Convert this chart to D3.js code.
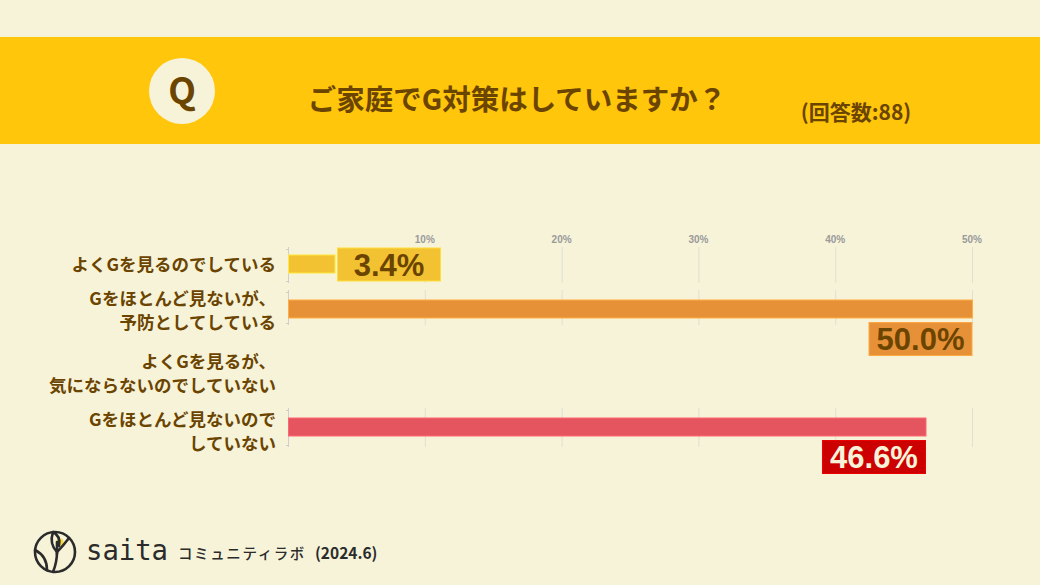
<!DOCTYPE html>
<html><head><meta charset="utf-8">
<script src="https://cdn.jsdelivr.net/npm/d3@7"></script>
<style>
html,body{margin:0;padding:0;background:#f6f3d9;}
svg{display:block;font-family:"Noto Sans CJK JP","Noto Sans",sans-serif;}
</style></head>
<body>
<svg id="c" width="1040" height="585"></svg>
<script>
const categories = [
  ["よくGを見るのでしている"],
  ["Gをほとんど見ないが、","予防としてしている"],
  ["よくGを見るが、","気にならないのでしていない"],
  ["Gをほとんど見ないので","していない"]
];
const values = [3.4, 50.0, 0, 46.6];
const valueLabels = ["3.4%", "50.0%", "", "46.6%"];
const barColors = ["#f2c232", "#e69138", "#e6b8af", "#e5555f"];
const boxColors = ["#f2c232", "#e69138", "#e6b8af", "#cc0000"];
const boxText = ["#6b4400", "#6b4400", "#6b4400", "#f6f3d9"];
const ticks = [10, 20, 30, 40, 50];
const tickLabels = ["10%", "20%", "30%", "40%", "50%"];
const title = "ご家庭でG対策はしていますか？";
const subtitle = "(回答数:88)";

// layout (row positions, not data)
const barRowY = [264, 309, 373, 427];
const labelRowY = [264, 310.5, 373.5, 431.5];

const svg = d3.select("#c");
const brown = "#6b4400";

svg.append("rect").attr("width",1040).attr("height",585).attr("fill","#f6f3d9");
svg.append("rect").attr("x",0).attr("y",37).attr("width",1040).attr("height",107).attr("fill","#ffc60b");
svg.append("circle").attr("cx",182).attr("cy",91).attr("r",33).attr("fill","#f6f3d9");
svg.append("text").attr("x",182).attr("y",104).attr("text-anchor","middle")
  .attr("font-size",36).attr("font-weight",700).attr("fill",brown).text("Q");
svg.append("text").attr("x",517).attr("y",110).attr("text-anchor","middle")
  .attr("font-size",28.5).attr("font-weight",700).attr("fill",brown).text(title);
svg.append("text").attr("x",856).attr("y",120).attr("text-anchor","middle")
  .attr("font-size",21).attr("font-weight",700).attr("fill",brown).text(subtitle);

const x = d3.scaleLinear().domain([0,50]).range([288,972]);
const yBar = d3.scaleOrdinal().domain(d3.range(categories.length)).range(barRowY);
const yLab = d3.scaleOrdinal().domain(d3.range(categories.length)).range(labelRowY);
const barH = 18;

svg.append("g").selectAll("text").data(ticks).join("text")
  .attr("x",d=>x(d)).attr("y",243).attr("text-anchor","middle")
  .attr("font-family","'Liberation Sans',Arial,sans-serif")
  .attr("font-size",10).attr("font-weight",700).attr("fill","#9a9a9a")
  .text((d,i)=>tickLabels[i]);

categories.forEach((lines,i)=>{
  const cy = yBar(i);
  const ly = yLab(i);
  const v = values[i];
  const lh = 24;
  const t = svg.append("text").attr("text-anchor","end").attr("font-size",17.5)
    .attr("font-weight",700).attr("fill",brown);
  lines.forEach((ln,k)=>{
    const off = (k-(lines.length-1)/2)*lh;
    t.append("tspan").attr("x",276).attr("y",ly+off+6.5).text(ln);
  });
  if (v<=0) return;
  const top = i===0 ? cy-17 : cy-19;
  const bot = i===0 ? cy+19 : cy+(i===3?20:16);
  const g = svg.append("g");
  g.selectAll("line").data([0].concat(ticks)).join("line")
    .attr("x1",d=>x(d)+0.5).attr("x2",d=>x(d)+0.5)
    .attr("y1",top).attr("y2",bot)
    .attr("stroke",d=>d===0?"#cfcfcf":"#dfe0d2").attr("stroke-width",1);
  g.selectAll("line.tk").data([top+2, bot-2]).join("line").attr("class","tk")
    .attr("x1",x(0)-2).attr("x2",x(0)+0.5).attr("y1",d=>d+0.5).attr("y2",d=>d+0.5)
    .attr("stroke","#cfcfcf");
  svg.append("rect").attr("x",x(0)+0.5).attr("y",cy-barH/2).attr("width",x(v)-x(0))
    .attr("height",barH).attr("fill",barColors[i])
    .attr("stroke",d3.color(barColors[i]).brighter(0.5)).attr("stroke-width",1);
  const bw = 103, bh = 33;
  let bx, by;
  if (i===0) { bx = x(v)+3; by = cy-16; }
  else { bx = x(v)-bw; by = cy+barH/2+4.5; }
  svg.append("rect").attr("x",bx).attr("y",by).attr("width",bw).attr("height",bh)
    .attr("fill",boxColors[i]).attr("stroke",d3.color(boxColors[i]).brighter(0.4)).attr("stroke-width",1);
  svg.append("text").attr("x",bx+bw/2).attr("y",by+bh/2+11).attr("text-anchor","middle")
    .attr("font-family","'Liberation Sans',Arial,sans-serif")
    .attr("font-size",31).attr("font-weight",700).attr("fill",boxText[i]).text(valueLabels[i]);
});

// footer logo
const lg = svg.append("g").attr("transform","translate(55,552)")
  .attr("fill","none").attr("stroke","#2b2b2b").attr("stroke-width",2.6).attr("stroke-linecap","round");
lg.append("circle").attr("r",20);
lg.append("circle").attr("cx",5).attr("cy",-10).attr("r",3.5).attr("fill","#f5d83a").attr("stroke","none");
lg.append("path").attr("d","M-2,-20 Q-6,-8 2,0 Q8,-6 14,-14 M2,0 Q2,10 -2,20");
lg.append("path").attr("d","M-2,-20 Q6,-16 4,-6");
lg.append("path").attr("d","M-20,-2 Q-8,4 -8,18 M2,-10 L2,2");

svg.append("text").attr("x",86).attr("y",560).attr("font-family","'DejaVu Sans Mono','Liberation Mono',monospace")
  .attr("font-size",29).attr("fill","#2b2b2b").attr("textLength",82).attr("lengthAdjust","spacingAndGlyphs").text("saita");
svg.append("text").attr("x",178).attr("y",559).attr("font-size",14.5).attr("font-weight",500)
  .attr("fill","#2b2b2b").attr("letter-spacing",1.6).text("コミュニティラボ");
svg.append("text").attr("x",315).attr("y",559).attr("font-size",15.5).attr("font-weight",700)
  .attr("fill","#2b2b2b").text("(2024.6)");
</script>
</body></html>
